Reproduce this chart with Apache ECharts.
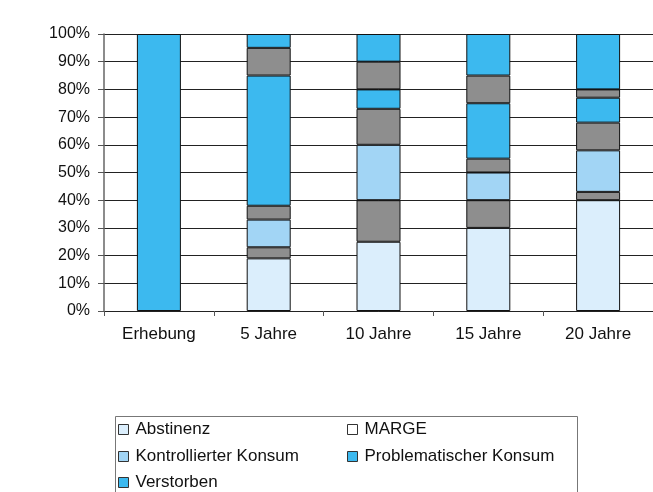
<!DOCTYPE html>
<html><head><meta charset="utf-8">
<script src="https://cdn.jsdelivr.net/npm/echarts@6/dist/echarts.min.js"></script>
<style>html,body{margin:0;padding:0;background:#fff}#c{width:653px;height:492px}</style>
</head><body><div id="c"></div>
<script>
const categories = ['Erhebung', '5 Jahre', '10 Jahre', '15 Jahre', '20 Jahre'];
const abstinenz = [0, 19, 25, 30, 40];
const marge1 = [0, 4, 15, 10, 3];
const kontrolliert = [0, 10, 20, 10, 15];
const marge2 = [0, 5, 13, 5, 10];
const problematisch = [100, 47, 7, 20, 9];
const marge3 = [0, 10, 10, 10, 3];
const verstorben = [0, 5, 10, 15, 20];
const yTicks = [0, 10, 20, 30, 40, 50, 60, 70, 80, 90, 100];

const colors = {
  abst: '#dbeefc', kontr: '#a2d5f5', prob: '#3cb9ef', verst: '#3cb9ef', marge: '#8e8e8e'
};
const font = 'Liberation Sans, Arial, sans-serif';
function bar(name, data, color) {
  return {
    name, type: 'bar', stack: 'total', data: data.map(v => v === 0 ? '-' : v), barWidth: 44,
    itemStyle: { color, borderColor: '#111', borderWidth: 1 },
    emphasis: { disabled: true }
  };
}
function leg(item, left, cy) {
  return {
    orient: 'horizontal', left, top: cy - 9, padding: 0, itemWidth: 10, itemHeight: 10,
    icon: 'rect', selectedMode: false, itemGap: 0,
    textStyle: { fontSize: 17, color: '#111', fontFamily: font, padding: [0, 0, 0, 2] },
    itemStyle: { borderColor: '#333', borderWidth: 1 },
    data: [item]
  };
}
const chart = echarts.init(document.getElementById('c'));
chart.setOption({
  animation: false,
  textStyle: { fontFamily: font },
  grid: { left: 104, right: 0, top: 34, bottom: 181, containLabel: false },
  xAxis: {
    type: 'category', data: categories,
    axisLine: { lineStyle: { color: '#222', width: 1 } },
    axisTick: { show: true, length: 5, lineStyle: { color: '#555' } },
    axisLabel: { color: '#111', fontSize: 17, margin: 15, fontFamily: font }
  },
  yAxis: {
    type: 'value', min: yTicks[0], max: yTicks[yTicks.length - 1], interval: 10,
    axisLine: { show: true, lineStyle: { color: '#666', width: 1.5 } },
    axisTick: { show: true, length: 6, lineStyle: { color: '#555' } },
    axisLabel: { color: '#111', fontSize: 16, margin: 14, formatter: v => v + '%', fontFamily: font },
    splitLine: { show: true, lineStyle: { color: '#222', width: 1 } }
  },
  legend: [
    leg('Abstinenz', 118, 430),
    leg('Kontrollierter Konsum', 118, 457),
    leg('Verstorben', 118, 483),
    leg({ name: 'MARGE', itemStyle: { color: '#fff' } }, 347, 430),
    leg('Problematischer Konsum', 347, 457)
  ],
  graphic: [{
    type: 'rect', left: 113, top: 414, shape: { width: 462, height: 90 },
    style: { fill: 'none', stroke: '#777', lineWidth: 1 }, silent: true
  }],
  series: [
    bar('Abstinenz', abstinenz, colors.abst),
    bar('MARGE', marge1, colors.marge),
    bar('Kontrollierter Konsum', kontrolliert, colors.kontr),
    bar('MARGE', marge2, colors.marge),
    bar('Problematischer Konsum', problematisch, colors.prob),
    bar('MARGE', marge3, colors.marge),
    bar('Verstorben', verstorben, colors.verst)
  ]
});
</script></body></html>
